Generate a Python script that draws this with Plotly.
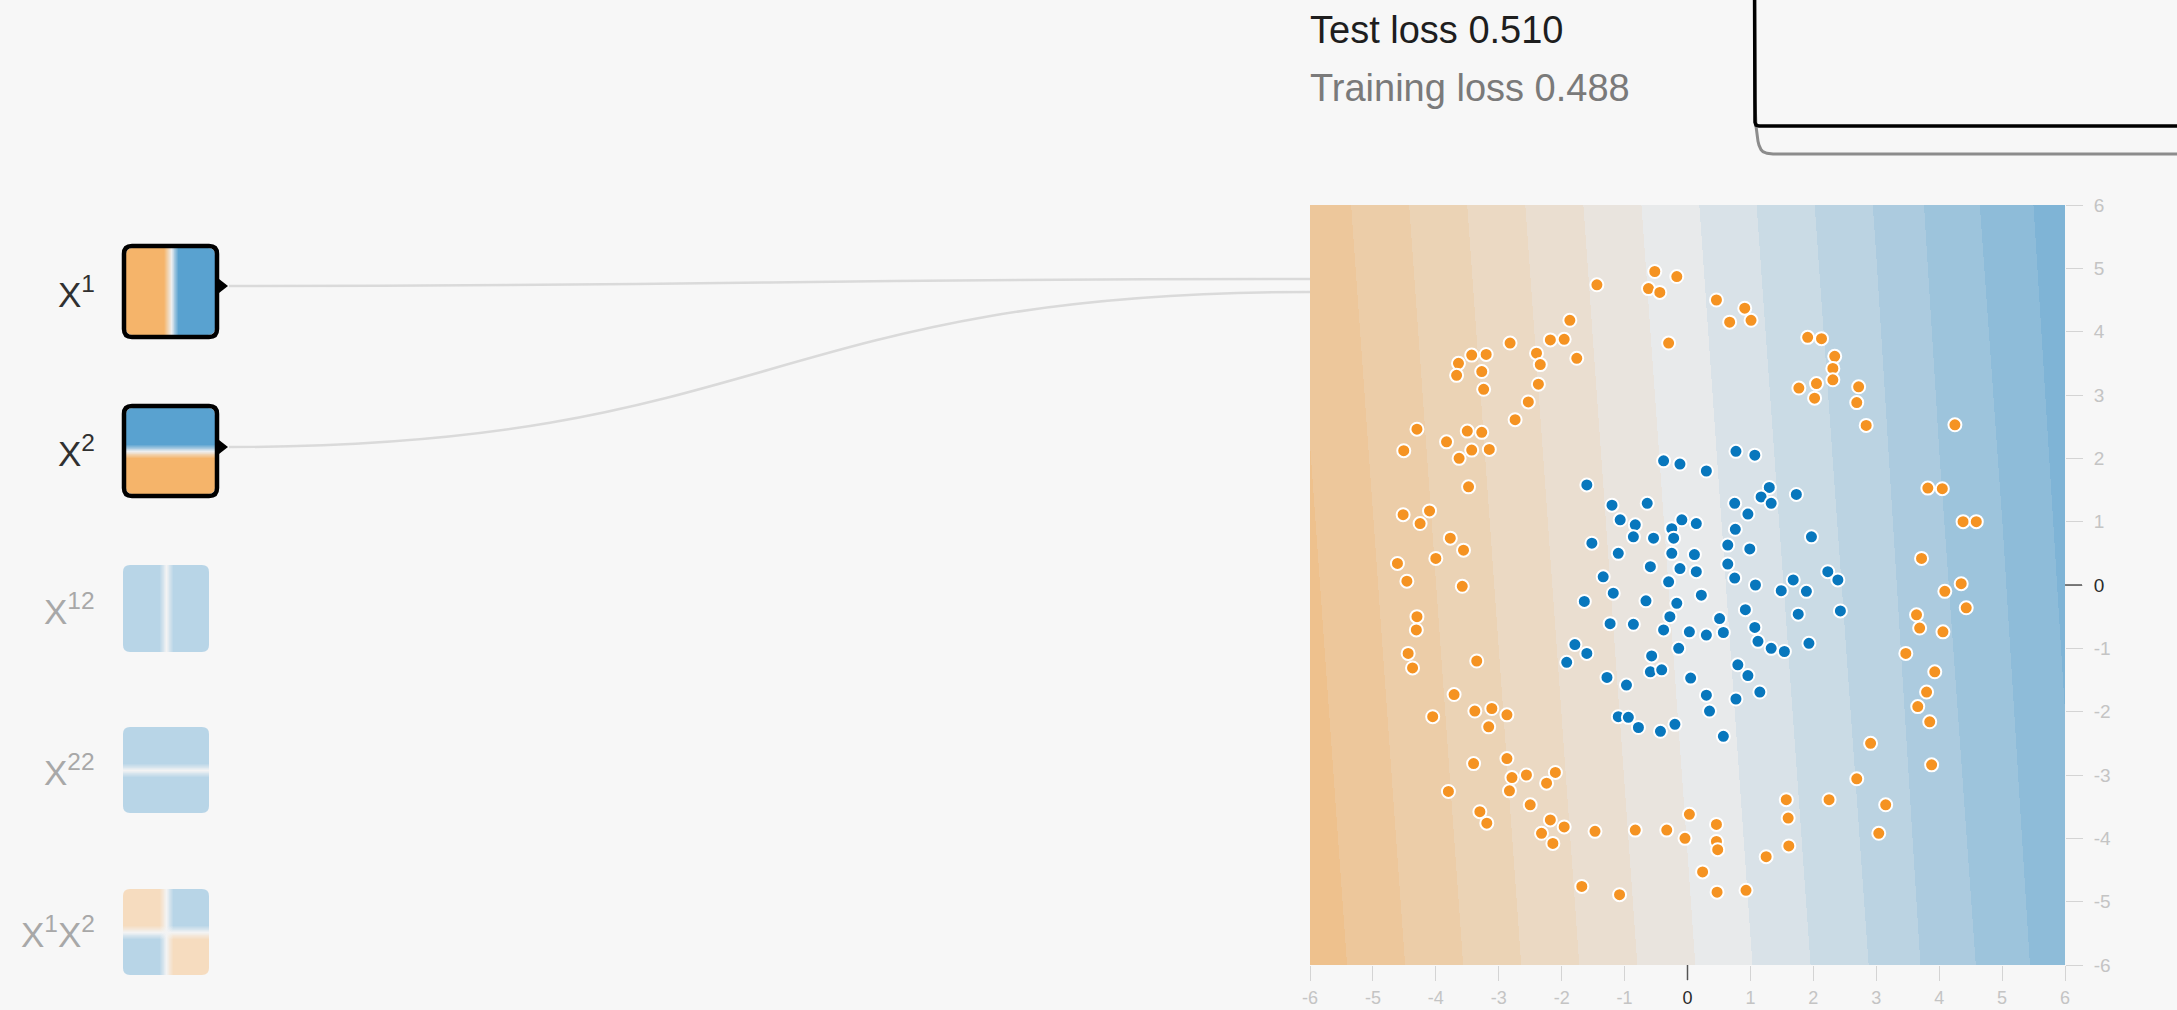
import plotly.graph_objects as go

W, H = 2177, 1010

# ---------------- data ----------------
orange_x = [-1.44, -0.52, -0.17, -0.62, -0.44, -0.30, -1.87, -2.18, -1.96, -1.76, -2.82, -2.40, -2.34, -2.37,
            -2.53, -2.74, -3.43, -3.20, -3.64, -3.67, -3.27, -3.24, -4.30, -4.51, -3.83, -3.50, -3.27, -3.43,
            -3.15, -3.63, -3.48, -4.52, -4.10, -4.25, -3.77, -3.56, -4.00, -4.61, -4.46, -3.58,
            0.46, 0.91, 1.01, 0.67, 1.91, 2.13, 2.34, 2.31, 2.31, 2.05, 1.77, 2.02, 2.72, 2.69, 2.84, 4.25,
            3.82, 4.05, 4.38, 4.59, 3.72, 4.35,
            -4.30, -4.31, -4.44, -4.37, -3.35, -3.71, -4.05, -3.38, -3.11, -2.87, -3.16, -3.40, -2.87, -3.80,
            -2.79, -2.56, -2.83, -2.24, -2.10, -3.30, -3.19, -2.50, -2.18, -1.96, -2.32, -2.14, -1.47, -0.83,
            -0.33, -0.04, 0.03, -1.68, -1.08,
            4.09, 4.43, 3.64, 3.69, 4.06, 3.47, 3.93, 3.80, 3.66, 3.85, 2.91, 3.88, 2.69, 2.25, 3.15, 3.04,
            1.57, 1.60, 1.61, 1.25, 0.46, 0.46, 0.48, 0.24, 0.47, 0.93]
orange_y = [4.74, 4.95, 4.87, 4.68, 4.62, 3.82, 4.18, 3.87, 3.88, 3.58, 3.82, 3.66, 3.48, 3.17,
            2.89, 2.61, 3.63, 3.64, 3.50, 3.31, 3.37, 3.09, 2.46, 2.12, 2.26, 2.43, 2.41, 2.13,
            2.14, 2.00, 1.55, 1.11, 1.17, 0.97, 0.74, 0.55, 0.42, 0.34, 0.06, -0.02,
            4.50, 4.37, 4.18, 4.15, 3.91, 3.89, 3.61, 3.42, 3.24, 3.18, 3.11, 2.95, 3.13, 2.88, 2.52, 2.53,
            1.53, 1.52, 1.00, 1.00, 0.42, 0.02,
            -0.50, -0.71, -1.08, -1.31, -1.20, -1.73, -2.08, -1.99, -1.95, -2.05, -2.24, -2.82, -2.74, -3.26,
            -3.04, -3.00, -3.25, -3.13, -2.96, -3.58, -3.76, -3.47, -3.71, -3.82, -3.92, -4.08, -3.89, -3.87,
            -3.87, -4.00, -3.62, -4.76, -4.89,
            -0.10, -0.36, -0.47, -0.68, -0.74, -1.08, -1.37, -1.69, -1.92, -2.16, -2.50, -2.84, -3.06, -3.39,
            -3.47, -3.92, -3.39, -3.68, -4.12, -4.29, -3.78, -4.05, -4.18, -4.53, -4.85, -4.82]

blue_x = [-1.60, -0.38, -0.12, -1.20, -0.64, -1.07, -0.83, -0.09, -0.25, -0.86, -0.54, -0.22, -1.52, -1.10,
          -0.25, -0.59, -0.12, -1.34, -0.30,
          0.77, 1.07, 0.30, 1.30, 1.17, 1.33, 1.73, 0.75, 0.96, 0.14, 0.76, 1.97, 0.64, 0.99, 0.11, 0.64,
          0.14, 0.75, 1.68, 2.23, 2.39, 1.08,
          -1.64, -1.18, -0.66, -0.17, -1.23, -0.86, -0.38, -0.14, -1.79, -1.60, -1.92, -0.57, -0.59, -0.41,
          -1.28, -0.97, 0.05, -1.10, -0.94, -0.78, -0.43, -0.20, -0.28,
          1.49, 1.89, 0.22, 0.92, 1.76, 2.43, 0.51, 0.03, 0.30, 0.57, 1.07, 1.12, 1.33, 1.54, 1.93, 0.80,
          0.96, 0.30, 0.77, 1.15, 0.35, 0.57]
blue_y = [1.58, 1.96, 1.91, 1.26, 1.29, 1.03, 0.95, 1.03, 0.89, 0.76, 0.74, 0.74, 0.66, 0.50,
          0.50, 0.29, 0.26, 0.13, 0.05,
          2.11, 2.05, 1.80, 1.54, 1.39, 1.29, 1.43, 1.29, 1.12, 0.97, 0.88, 0.76, 0.63, 0.57, 0.48, 0.33,
          0.21, 0.11, 0.08, 0.21, 0.08, 0.00,
          -0.26, -0.13, -0.25, -0.29, -0.61, -0.62, -0.71, -1.00, -0.94, -1.08, -1.22, -1.12, -1.37, -1.34,
          -1.46, -1.58, -1.47, -2.08, -2.09, -2.25, -2.31, -2.20, -0.50,
          -0.09, -0.10, -0.16, -0.39, -0.46, -0.41, -0.53, -0.74, -0.79, -0.75, -0.67, -0.89, -1.00, -1.05,
          -0.92, -1.26, -1.43, -1.74, -1.80, -1.69, -1.99, -2.39]

tick_vals = [-6, -5, -4, -3, -2, -1, 0, 1, 2, 3, 4, 5, 6]
tick_labels = ["-6", "-5", "-4", "-3", "-2", "-1", "<span style='color:#2a2a2a'>0</span>",
               "1", "2", "3", "4", "5", "6"]

# model output (bottom row y=-6, top row y=6)
bg_x = [-6, -5, -4, -3, -2, -1, 0, 1, 2, 3, 4, 5, 6]
bg_y = [-6, 6]
bg_out_bottom = [-0.46, -0.39, -0.32, -0.25, -0.18, -0.11, -0.04, 0.03, 0.10, 0.17, 0.25, 0.32, 0.40]
bg_out_top = [-0.40, -0.33, -0.26, -0.19, -0.12, -0.05, 0.02, 0.09, 0.16, 0.23, 0.31, 0.38, 0.46]

loss_iter = [0, 1, 2, 3, 4, 5, 6, 8, 10, 14, 20, 40, 80, 150, 250, 350, 440]
test_loss = [0.98, 0.66, 0.513, 0.5108, 0.5103, 0.5101, 0.5100, 0.5100, 0.5100, 0.5100, 0.5100, 0.5100,
             0.5100, 0.5100, 0.5100, 0.5100, 0.5100]
train_loss = [0.96, 0.64, 0.53, 0.51, 0.503, 0.498, 0.495, 0.4915, 0.4898, 0.4886, 0.4881, 0.4880,
              0.4880, 0.4880, 0.4880, 0.4880, 0.4880]
test_label = "Test loss 0.510"
train_label = "Training loss 0.488"

node_labels = ["X<sup>1</sup>", "X<sup>2</sup>", "X<sup>12</sup>", "X<sup>22</sup>", "X<sup>1</sup>X<sup>2</sup>"]
node_active = [True, True, False, False, False]
node_grid = [-6, -1, 0, 1, 6]
feat_x1 = [-1, -1, 0, 1, 1]
feat_x2 = [-1, -1, 0, 1, 1]
feat_x1_sq = [1, 1, 0, 1, 1]
feat_x2_sq = [1, 1, 0, 1, 1]
feat_x1x2 = [[1, 1, 0, -1, -1],
             [1, 1, 0, -1, -1],
             [0, 0, 0, 0, 0],
             [-1, -1, 0, 1, 1],
             [-1, -1, 0, 1, 1]]

# ---------------- styling ----------------
BG = "#f7f7f7"
ORANGE = (245, 147, 34)
NEUTRAL = (232, 234, 235)
BLUE = (8, 119, 189)


def mix(a, b, t):
    return tuple(round(a[i] + (b[i] - a[i]) * t) for i in range(3))


n_shades = 30
shade_cols = []
for i in range(n_shades + 1):
    t = i / n_shades
    c = mix(ORANGE, NEUTRAL, t * 2) if t <= 0.5 else mix(NEUTRAL, BLUE, (t - 0.5) * 2)
    shade_cols.append("rgb(%d,%d,%d)" % c)
cscale = []
nb = len(shade_cols)
for i, c in enumerate(shade_cols):
    cscale.append([i / nb, c])
    cscale.append([(i + 1) / nb, c])


def fx(p):
    return p / W


def fy(p):
    return 1 - p / H


# pixel boxes
HM = (1310, 205, 2065, 965)  # heatmap x0, y0, x1, y1
LOSS = (1745, 0, W, 158)
node_boxes = [(126, 248, 215, 335), (126, 408, 215, 494), (123, 565, 209, 652),
              (123, 727, 209, 813), (123, 889, 209, 975)]

fig = go.Figure()

# background model output
fig.add_trace(go.Heatmap(x=bg_x, y=bg_y, z=[bg_out_bottom, bg_out_top], colorscale=cscale,
                         zmin=-1, zmax=1, zsmooth="best", showscale=False, hoverinfo="skip",
                         xaxis="x", yaxis="y"))
fig.add_trace(go.Scatter(x=orange_x, y=orange_y, mode="markers", xaxis="x", yaxis="y",
                         marker=dict(color="#f59322", size=13, line=dict(color="white", width=2))))
fig.add_trace(go.Scatter(x=blue_x, y=blue_y, mode="markers", xaxis="x", yaxis="y",
                         marker=dict(color="#0877bd", size=13, line=dict(color="white", width=2))))

# loss chart
fig.add_trace(go.Scatter(x=loss_iter, y=train_loss, mode="lines", xaxis="x2", yaxis="y2",
                         line=dict(color="#8c8c8c", width=3)))
fig.add_trace(go.Scatter(x=loss_iter, y=test_loss, mode="lines", xaxis="x2", yaxis="y2",
                         line=dict(color="#000000", width=3.5)))

tickfont = dict(family="Liberation Sans", size=19, color="#c4c4c4")
layout_axes = {}
layout_axes["xaxis"] = dict(domain=[fx(HM[0]), fx(HM[2])], range=[-6, 6], showgrid=False, zeroline=False,
                            tickvals=tick_vals, ticktext=tick_labels, ticks="outside", ticklen=15,
                            tickwidth=1, tickcolor="#d4d4d4", anchor="free", position=fy(HM[3]),
                            tickfont=dict(family="Liberation Sans", size=18, color="#c4c4c4"),
                            ticklabelstandoff=1, automargin=False,
                            showline=False, fixedrange=True)
layout_axes["yaxis"] = dict(domain=[fy(HM[3]), fy(HM[1])], range=[-6, 6], showgrid=False, zeroline=False,
                            tickvals=tick_vals, ticktext=tick_labels, ticks="outside", ticklen=17,
                            tickwidth=1, tickcolor="#d4d4d4", side="right", anchor="free",
                            position=fx(HM[2]), tickfont=tickfont, ticklabelstandoff=7, automargin=False,
                            showline=False, fixedrange=True)
layout_axes["xaxis2"] = dict(domain=[fx(LOSS[0]), 1], range=[-8, 424], visible=False, anchor="y2",
                             automargin=False)
layout_axes["yaxis2"] = dict(domain=[fy(LOSS[3]), 1], range=[0.4849, 0.609], visible=False, anchor="x2",
                             automargin=False)

node_feats = [
    (node_grid, [-6, 6], [feat_x1, feat_x1]),
    ([-6, 6], node_grid, [[v, v] for v in feat_x2]),
    (node_grid, [-6, 6], [feat_x1_sq, feat_x1_sq]),
    ([-6, 6], node_grid, [[v, v] for v in feat_x2_sq]),
    (node_grid, node_grid, feat_x1x2),
]

shapes = []
annotations = []
for k, (box, (nx, ny, nz), active, lab) in enumerate(zip(node_boxes, node_feats, node_active, node_labels)):
    ax = k + 3
    fig.add_trace(go.Heatmap(x=nx, y=ny, z=nz, colorscale=cscale, zmin=-1, zmax=1, zsmooth="best",
                             showscale=False, hoverinfo="skip", opacity=0.66 if active else 0.26,
                             xaxis="x%d" % ax, yaxis="y%d" % ax))
    layout_axes["xaxis%d" % ax] = dict(domain=[fx(box[0]), fx(box[2])], range=[-6, 6], visible=False,
                                       anchor="y%d" % ax, fixedrange=True, automargin=False)
    layout_axes["yaxis%d" % ax] = dict(domain=[fy(box[3]), fy(box[1])], range=[-6, 6], visible=False,
                                       anchor="x%d" % ax, fixedrange=True, automargin=False)
    x0, y0, x1, y1 = box
    r = 7
    # mask the square corners so the thumbnails look rounded
    for (cx, cy, sx, sy) in [(x0, y0, 1, 1), (x1, y0, -1, 1), (x1, y1, -1, -1), (x0, y1, 1, -1)]:
        p = "M %f %f L %f %f Q %f %f %f %f Z" % (fx(cx), fy(cy), fx(cx + sx * r), fy(cy),
                                                   fx(cx), fy(cy), fx(cx), fy(cy + sy * r))
        shapes.append(dict(type="path", path=p, xref="paper", yref="paper", fillcolor=BG,
                           line=dict(width=0), layer="above"))
    if active:
        bx0, by0, bx1, by1 = x0 - 2, y0 - 2, x1 + 2, y1 + 2
        rr = 8
        p = ("M %f %f L %f %f Q %f %f %f %f L %f %f Q %f %f %f %f L %f %f Q %f %f %f %f L %f %f Q %f %f %f %f Z" %
             (fx(bx0 + rr), fy(by0), fx(bx1 - rr), fy(by0), fx(bx1), fy(by0), fx(bx1), fy(by0 + rr),
              fx(bx1), fy(by1 - rr), fx(bx1), fy(by1), fx(bx1 - rr), fy(by1),
              fx(bx0 + rr), fy(by1), fx(bx0), fy(by1), fx(bx0), fy(by1 - rr),
              fx(bx0), fy(by0 + rr), fx(bx0), fy(by0), fx(bx0 + rr), fy(by0)))
        shapes.append(dict(type="path", path=p, xref="paper", yref="paper", line=dict(color="#000", width=4.5),
                           fillcolor="rgba(0,0,0,0)", layer="above"))
    annotations.append(dict(text=lab, x=fx(97), y=fy((y0 + y1) / 2), xref="paper", yref="paper",
                            xanchor="right", yanchor="middle", showarrow=False,
                            font=dict(family="Liberation Sans", size=35,
                                      color="#303030" if active else "#a8a8a8")))

# links from the active inputs to the output map
link_starts = [(229, 286), (229, 447)]
link_ends = [(HM[0], 279), (HM[0], 292)]
for (sx, sy), (ex, ey) in zip(link_starts, link_ends):
    mx = (sx + ex) / 2
    p = "M %f %f C %f %f %f %f %f %f" % (fx(sx), fy(sy), fx(mx), fy(sy), fx(mx), fy(ey), fx(ex), fy(ey))
    shapes.append(dict(type="path", path=p, xref="paper", yref="paper",
                       line=dict(color="#dadada", width=2.5), layer="below"))
    # connector triangle
    tx = 219
    p = "M %f %f L %f %f L %f %f Z" % (fx(tx), fy(sy - 7), fx(tx + 9), fy(sy), fx(tx), fy(sy + 7))
    shapes.append(dict(type="path", path=p, xref="paper", yref="paper", fillcolor="#000",
                       line=dict(width=0), layer="above"))

# darker zero ticks
shapes.append(dict(type="line", xref="x", yref="paper", x0=0, x1=0, y0=fy(HM[3]), y1=fy(HM[3] + 15),
                   line=dict(color="#555", width=1.5)))
shapes.append(dict(type="line", xref="paper", yref="y", y0=0, y1=0, x0=fx(HM[2]), x1=fx(HM[2] + 17),
                   line=dict(color="#555", width=1.5)))

annotations.append(dict(text=test_label, x=fx(1308), y=fy(30), xref="paper", yref="paper",
                        xanchor="left", yanchor="middle", showarrow=False,
                        font=dict(family="Liberation Sans", size=38, color="#1e1e1e")))
annotations.append(dict(text=train_label, x=fx(1308), y=fy(88), xref="paper", yref="paper",
                        xanchor="left", yanchor="middle", showarrow=False,
                        font=dict(family="Liberation Sans", size=38, color="#7a7a7a")))

fig.update_layout(width=W, height=H, margin=dict(l=0, r=0, t=0, b=0, pad=0, autoexpand=False),
                  paper_bgcolor=BG, plot_bgcolor="rgba(0,0,0,0)", showlegend=False,
                  hovermode=False, shapes=shapes, annotations=annotations, **layout_axes)

fig.write_html("out.html", config={"displayModeBar": False},
               post_script="document.body.style.margin='0';document.body.style.overflow='hidden';")
